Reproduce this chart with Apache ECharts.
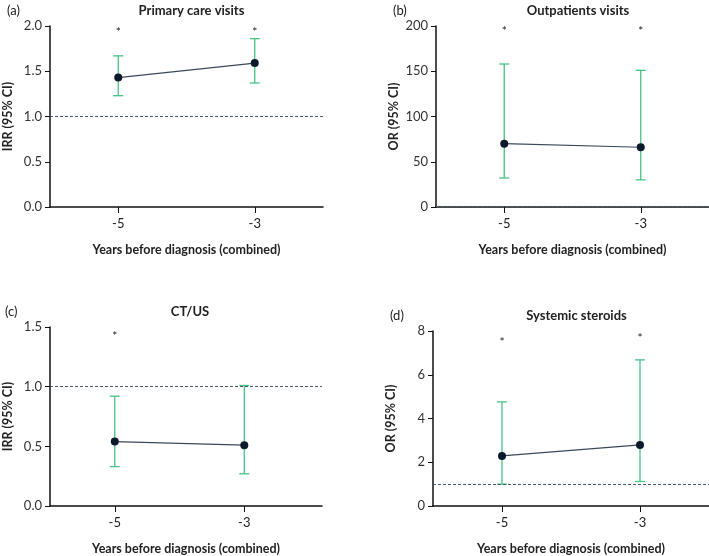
<!DOCTYPE html>
<html>
<head>
<meta charset="utf-8">
<script src="https://cdn.jsdelivr.net/npm/echarts@6/dist/echarts.min.js"></script>
<style>
  html, body { margin: 0; padding: 0; background: #fff; }
  #main { width: 709px; height: 556px; }
</style>
</head>
<body>
<div id="main"></div>
<script>
// years before diagnosis and the tick labels shown on x
var years = [-5, -3];
var xTicks = [-5, -3];

// (a) primary care visits, IRR
var careEst  = [1.43, 1.59];
var careLow  = [1.23, 1.37];
var careHigh = [1.67, 1.86];
var careStar = [1.96, 1.96];

// (b) outpatients visits, OR
var outEst  = [70, 66];
var outLow  = [32, 30];
var outHigh = [158, 151];
var outStar = [198, 198];

// (c) CT/US, IRR
var ctEst  = [0.54, 0.51];
var ctLow  = [0.33, 0.27];
var ctHigh = [0.92, 1.01];
var ctStar = [1.45, null];

// (d) systemic steroids, OR
var sterEst  = [2.29, 2.79];
var sterLow  = [1.0, 1.12];
var sterHigh = [4.76, 6.68];
var sterStar = [7.65, 7.8];

var refValue = 1;

var FONT = 'Lato';
var TXT = '#222';
var GREEN = '#45c486';
var DOT = '#0b1a2b';

var panels = [
  { tag: '(a)', title: 'Primary care visits', yName: 'IRR (95% CI)', est: careEst, low: careLow, high: careHigh, star: careStar,
    grid: { left: 50, top: 26, width: 273, height: 181 }, xMax: -2, yMax: 2, yStep: 0.5, dec: 1 },
  { tag: '(b)', title: 'Outpatients visits', yName: 'OR (95% CI)', est: outEst, low: outLow, high: outHigh, star: outStar,
    grid: { left: 436, top: 26, width: 274, height: 181 }, xMax: -2, yMax: 200, yStep: 50, dec: 0 },
  { tag: '(c)', title: 'CT/US', yName: 'IRR (95% CI)', est: ctEst, low: ctLow, high: ctHigh, star: ctStar,
    grid: { left: 48, top: 327, width: 274, height: 182 }, xMax: -1.8, yMax: 1.5, yStep: 0.5, dec: 1 },
  { tag: '(d)', title: 'Systemic steroids', yName: 'OR (95% CI)', est: sterEst, low: sterLow, high: sterHigh, star: sterStar,
    grid: { left: 433, top: 331, width: 277, height: 180 }, xMax: -2, yMax: 8, yStep: 2, dec: 0 }
];

function pairs(xs, ys) {
  var res = [];
  for (var i = 0; i < xs.length; i++) {
    if (ys[i] != null) res.push([xs[i], ys[i]]);
  }
  return res;
}

function errorBarItem(params, api) {
  var x = api.value(0);
  var top = api.coord([x, api.value(2)]);
  var bot = api.coord([x, api.value(1)]);
  var cap = 5;
  var st = { stroke: GREEN, lineWidth: 1.3 };
  return {
    type: 'group',
    children: [
      { type: 'line', shape: { x1: top[0], y1: top[1], x2: bot[0], y2: bot[1] }, style: st },
      { type: 'line', shape: { x1: top[0] - cap, y1: top[1], x2: top[0] + cap, y2: top[1] }, style: st },
      { type: 'line', shape: { x1: bot[0] - cap, y1: bot[1], x2: bot[0] + cap, y2: bot[1] }, style: st }
    ]
  };
}

// asterisk glyph sits high in its box, so nudge it down onto the value
function starItem(params, api) {
  var p = api.coord([api.value(0), api.value(1)]);
  return {
    type: 'text',
    style: { x: p[0], y: p[1] + 3, text: '*', fill: TXT, font: '12px ' + FONT, align: 'center', verticalAlign: 'middle' }
  };
}

var grids = [], xAxes = [], yAxes = [], series = [], titles = [];

panels.forEach(function (p, i) {
  grids.push(p.grid);
  var cx = p.grid.left + p.grid.width / 2;
  titles.push({ text: p.title, left: cx, top: p.grid.top - 27, textAlign: 'center',
    textStyle: { fontFamily: FONT, fontSize: 13, fontWeight: 'bold', color: TXT } });
  titles.push({ text: p.tag, left: p.grid.left - 48, top: p.grid.top - 27,
    textStyle: { fontFamily: FONT, fontSize: 13, fontWeight: 'normal', color: TXT } });

  xAxes.push({
    type: 'value', gridIndex: i, min: -6, max: p.xMax,
    name: 'Years before diagnosis (combined)', nameLocation: 'middle', nameGap: 36,
    nameTextStyle: { fontFamily: FONT, fontSize: 12.5, fontWeight: 'bold', color: TXT },
    axisLine: { show: true, onZero: false, lineStyle: { color: '#111', width: 1.5 } },
    axisTick: { show: true, length: 6, customValues: xTicks, lineStyle: { color: '#111' } },
    axisLabel: { customValues: xTicks, margin: 10, fontFamily: FONT, fontSize: 13, color: TXT },
    splitLine: { show: false }
  });
  yAxes.push({
    type: 'value', gridIndex: i, min: 0, max: p.yMax, interval: p.yStep,
    name: p.yName, nameLocation: 'middle', nameGap: 36,
    nameTextStyle: { fontFamily: FONT, fontSize: 12.5, fontWeight: 'bold', color: TXT },
    axisLine: { show: true, lineStyle: { color: '#111', width: 1.5 } },
    axisTick: { show: true, length: 5, lineStyle: { color: '#111' } },
    axisLabel: { margin: 8, fontFamily: FONT, fontSize: 13, color: '#333',
      formatter: function (v) { return v.toFixed(p.dec); } },
    splitLine: { show: false }
  });

  var bars = [];
  for (var k = 0; k < years.length; k++) bars.push([years[k], p.low[k], p.high[k]]);

  series.push({
    type: 'custom', xAxisIndex: i, yAxisIndex: i, renderItem: errorBarItem, data: bars, z: 2,
    encode: { x: 0, y: [1, 2] }, silent: true
  });
  series.push({
    type: 'line', xAxisIndex: i, yAxisIndex: i, data: pairs(years, p.est), z: 3,
    symbol: 'circle', symbolSize: 8,
    lineStyle: { color: '#3a4a5a', width: 1.2 },
    itemStyle: { color: DOT },
    markLine: {
      silent: true, symbol: 'none', label: { show: false },
      lineStyle: { color: '#4a5a6a', type: [3, 2], width: 1 },
      data: [{ yAxis: refValue }]
    }
  });
  series.push({
    type: 'custom', xAxisIndex: i, yAxisIndex: i, renderItem: starItem, data: pairs(years, p.star), z: 4, silent: true
  });
});

var myChart = echarts.init(document.getElementById('main'));
myChart.setOption({
  animation: false,
  backgroundColor: '#fff',
  title: titles,
  grid: grids,
  xAxis: xAxes,
  yAxis: yAxes,
  series: series
});
</script>
</body>
</html>
